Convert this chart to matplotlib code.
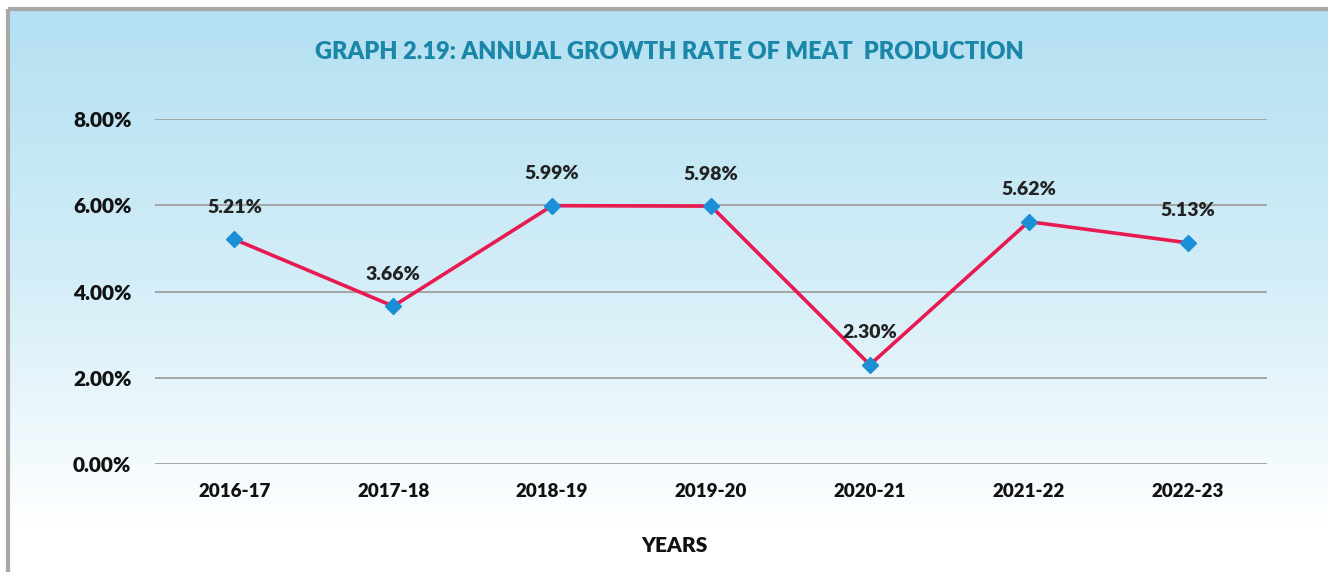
import numpy as np
import matplotlib.pyplot as plt
from matplotlib.colors import LinearSegmentedColormap

# data
years = ["2016-17", "2017-18", "2018-19", "2019-20", "2020-21", "2021-22", "2022-23"]
growth = [5.21, 3.66, 5.99, 5.98, 2.30, 5.62, 5.13]
labels = ["5.21%", "3.66%", "5.99%", "5.98%", "2.30%", "5.62%", "5.13%"]
yticks = [0, 2, 4, 6, 8]

plt.rcParams['font.family'] = ['Lato', 'DejaVu Sans']
W, H = 1328, 572
fig = plt.figure(figsize=(W / 100, H / 100), dpi=100)

# background panel with blue -> white gradient and grey frame
bg = fig.add_axes([0, 0, 1, 1])
bg.set_xlim(0, W)
bg.set_ylim(H, 0)
bg.axis('off')
cmap = LinearSegmentedColormap.from_list('bg', ['#b3e0f2', '#d2edf7', '#ffffff'])
grad = np.linspace(0, 1, 256).reshape(-1, 1)
bg.imshow(grad, cmap=cmap, extent=[9, W, 530, 10], aspect='auto', zorder=0)
bg.add_patch(plt.Rectangle((9, 530), W - 9, H - 530, color='white', zorder=0))
bg.plot([7.5, 7.5], [8.5, H], color='#a8a8a8', lw=3, solid_capstyle='butt')
bg.plot([7.5, W], [8.5, 8.5], color='#a8a8a8', lw=3, solid_capstyle='butt')

ax = fig.add_axes([155 / W, 1 - 464 / H, (1267 - 155) / W, (464 - 119) / H])
ax.patch.set_visible(False)
x = np.arange(len(years))
ax.plot(x, growth, color='#e91a52', lw=2.6, marker='D', markersize=8.5,
        markerfacecolor='#1a8fd6', markeredgecolor='#1a8fd6', zorder=3)
for xi, yi, lab in zip(x, growth, labels):
    ax.annotate(lab, (xi, yi), xytext=(0, 23), textcoords='offset points',
                ha='center', va='center', fontsize=14, fontweight='heavy', color='#222222')

ax.set_xlim(-0.5, len(years) - 0.5)
ax.set_ylim(0, 8)
ax.set_yticks(yticks)
ax.set_yticklabels([f"{v:.2f}%" for v in yticks])
ax.set_xticks(x)
ax.set_xticklabels(years)
ax.grid(axis='y', color='#a0a0a0', lw=1.3)
ax.set_axisbelow(True)
for s in ax.spines.values():
    s.set_visible(False)
ax.tick_params(length=0, labelcolor='#111111')
ax.tick_params(axis='y', pad=17, labelsize=15)
ax.tick_params(axis='x', pad=14, labelsize=13.5)
for t in ax.get_xticklabels() + ax.get_yticklabels():
    t.set_fontweight('heavy')
ax.set_xlabel("YEARS", fontsize=15, fontweight='heavy', color='#111111')
ax.xaxis.set_label_coords((674 - 155) / 1112, -72 / 345)

fig.text(669 / W, 1 - 52 / H, "GRAPH 2.19: ANNUAL GROWTH RATE OF MEAT  PRODUCTION",
         ha='center', va='center', fontsize=17, fontweight='heavy', color='#1a86a8')

fig.savefig('out.png', dpi=100)
